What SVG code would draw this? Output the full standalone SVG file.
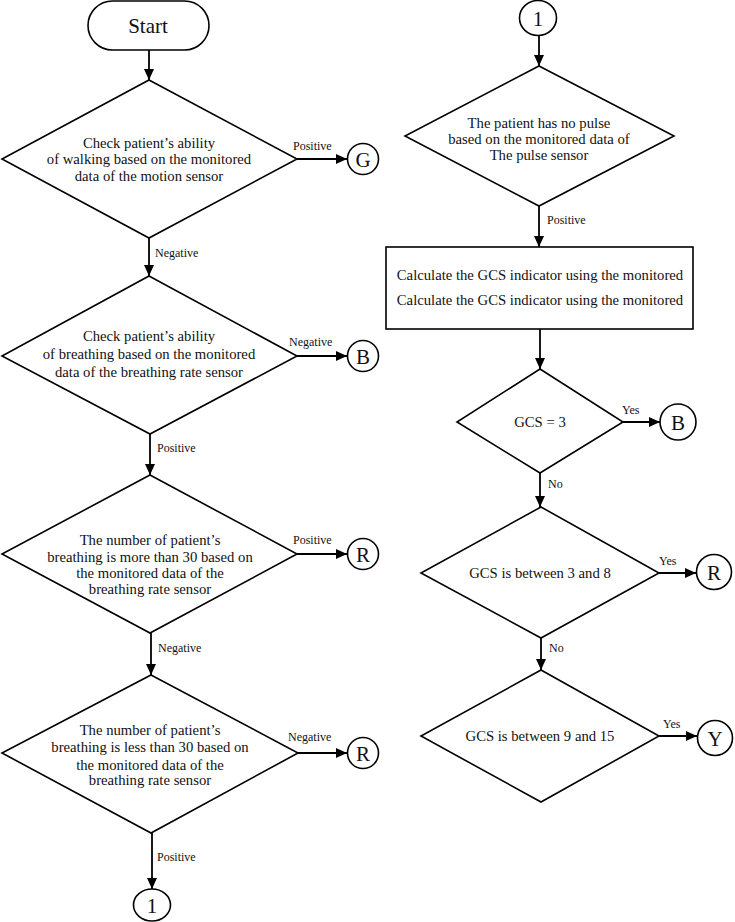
<svg xmlns="http://www.w3.org/2000/svg" width="735" height="922" viewBox="0 0 735 922">
<style>
.shape{fill:#fff;stroke:#000;stroke-width:1.6}
.t{font-family:"Liberation Serif","Times New Roman",serif;font-size:14.7px;fill:#111;text-anchor:middle}
.big{font-size:21px}
.circ{font-size:21px}
.lbl{font-family:"Liberation Serif","Times New Roman",serif;font-size:12px;fill:#111}
.edge{stroke:#000;stroke-width:1.8;fill:none;marker-end:url(#ah)}
</style>
<defs>
<marker id="ah" markerUnits="userSpaceOnUse" markerWidth="11" markerHeight="10" refX="11" refY="5" orient="auto">
<path d="M0,0 L11,5 L0,10 z" fill="#000"/>
</marker>
</defs>
<rect width="735" height="922" fill="#fff"/>
<g id="connectors">
<line class="edge" x1="149" y1="50" x2="149" y2="80"/>
<line class="edge" x1="297" y1="159" x2="347" y2="159"/>
<line class="edge" x1="149" y1="238" x2="149" y2="276"/>
<line class="edge" x1="297" y1="356" x2="347" y2="356"/>
<line class="edge" x1="150" y1="434" x2="150" y2="475"/>
<line class="edge" x1="297" y1="554" x2="347" y2="554"/>
<line class="edge" x1="151" y1="633" x2="151" y2="675"/>
<line class="edge" x1="298" y1="753" x2="347" y2="753"/>
<line class="edge" x1="152" y1="833" x2="152" y2="889"/>
<line class="edge" x1="539" y1="36" x2="539" y2="66"/>
<line class="edge" x1="539" y1="206" x2="539" y2="247"/>
<line class="edge" x1="540" y1="329" x2="540" y2="369"/>
<line class="edge" x1="623" y1="422" x2="660" y2="422"/>
<line class="edge" x1="540" y1="473" x2="540" y2="507"/>
<line class="edge" x1="659" y1="573" x2="696" y2="573"/>
<line class="edge" x1="541" y1="638" x2="541" y2="670"/>
<line class="edge" x1="659" y1="736" x2="697" y2="736"/>
<text class="lbl" x="293" y="150">Positive</text>
<text class="lbl" x="155" y="257">Negative</text>
<text class="lbl" x="289" y="346">Negative</text>
<text class="lbl" x="157" y="452">Positive</text>
<text class="lbl" x="293" y="544">Positive</text>
<text class="lbl" x="158" y="652">Negative</text>
<text class="lbl" x="288" y="741">Negative</text>
<text class="lbl" x="157" y="861">Positive</text>
<text class="lbl" x="547" y="224">Positive</text>
<text class="lbl" x="622" y="414">Yes</text>
<text class="lbl" x="548" y="488">No</text>
<text class="lbl" x="659" y="565">Yes</text>
<text class="lbl" x="549" y="652">No</text>
<text class="lbl" x="663" y="728">Yes</text>
</g>
<g id="start">
<rect class="shape" x="88" y="1" width="121" height="49" rx="24.5"/>
<text class="t big" x="148" y="33">Start</text>
</g>
<g id="d1">
<polygon class="shape" points="149,80 297,159 149,238 2,159"/>
<text class="t" x="149" y="148">Check patient’s ability</text>
<text class="t" x="149" y="164">of walking based on the monitored</text>
<text class="t" x="149" y="181">data of the motion sensor</text>
</g>
<g id="d2">
<polygon class="shape" points="149,276 297,356 150,434 2,356"/>
<text class="t" x="149" y="341">Check patient’s ability</text>
<text class="t" x="149" y="359">of breathing based on the monitored</text>
<text class="t" x="149" y="377">data of the breathing rate sensor</text>
</g>
<g id="d3">
<polygon class="shape" points="150,475 297,554 150,633 2,554"/>
<text class="t" x="150" y="545">The number of patient’s</text>
<text class="t" x="150" y="562">breathing is more than 30 based on</text>
<text class="t" x="150" y="578">the monitored data of the</text>
<text class="t" x="150" y="594">breathing rate sensor</text>
</g>
<g id="d4">
<polygon class="shape" points="151,675 298,753 151,833 2,753"/>
<text class="t" x="150" y="735">The number of patient’s</text>
<text class="t" x="150" y="752">breathing is less than 30 based on</text>
<text class="t" x="150" y="770">the monitored data of the</text>
<text class="t" x="150" y="785">breathing rate sensor</text>
</g>
<g id="cG">
<circle class="shape" cx="363" cy="159" r="15.5"/>
<text class="t circ" x="363" y="166.5">G</text>
</g>
<g id="cB1">
<circle class="shape" cx="363" cy="356" r="15.5"/>
<text class="t circ" x="363" y="363.5">B</text>
</g>
<g id="cR1">
<circle class="shape" cx="363" cy="554" r="15.5"/>
<text class="t circ" x="363" y="561.5">R</text>
</g>
<g id="cR2">
<circle class="shape" cx="363" cy="753" r="15.5"/>
<text class="t circ" x="363" y="760.5">R</text>
</g>
<g id="c1bottom">
<ellipse class="shape" cx="152" cy="905" rx="18.5" ry="16"/>
<text class="t circ" x="152" y="912.5">1</text>
</g>
<g id="c1top">
<ellipse class="shape" cx="538" cy="18" rx="18.5" ry="17.5"/>
<text class="t circ" x="538" y="25.5">1</text>
</g>
<g id="d5">
<polygon class="shape" points="539,66 674,136 539,206 405,136"/>
<text class="t" x="539" y="128">The patient has no pulse</text>
<text class="t" x="539" y="144">based on the monitored data of</text>
<text class="t" x="539" y="160">The pulse sensor</text>
</g>
<g id="calc">
<rect class="shape" x="386" y="247" width="307" height="82"/>
<text class="t" x="540" y="280">Calculate the GCS indicator using the monitored</text>
<text class="t" x="540" y="305">Calculate the GCS indicator using the monitored</text>
</g>
<g id="d6">
<polygon class="shape" points="540,369 623,422 540,473 457,422"/>
<text class="t" x="540" y="427">GCS = 3</text>
</g>
<g id="cB2">
<circle class="shape" cx="678" cy="422" r="18"/>
<text class="t circ" x="678" y="429.5">B</text>
</g>
<g id="d7">
<polygon class="shape" points="541,507 659,573 541,638 421,573"/>
<text class="t" x="540" y="578">GCS is between 3 and 8</text>
</g>
<g id="cR3">
<circle class="shape" cx="714" cy="572" r="17.5"/>
<text class="t circ" x="714" y="579.5">R</text>
</g>
<g id="d8">
<polygon class="shape" points="541,670 659,736 541,802 421,736"/>
<text class="t" x="540" y="741">GCS is between 9 and 15</text>
</g>
<g id="cY">
<circle class="shape" cx="715" cy="738" r="17.5"/>
<text class="t circ" x="715" y="745.5">Y</text>
</g>
</svg>
